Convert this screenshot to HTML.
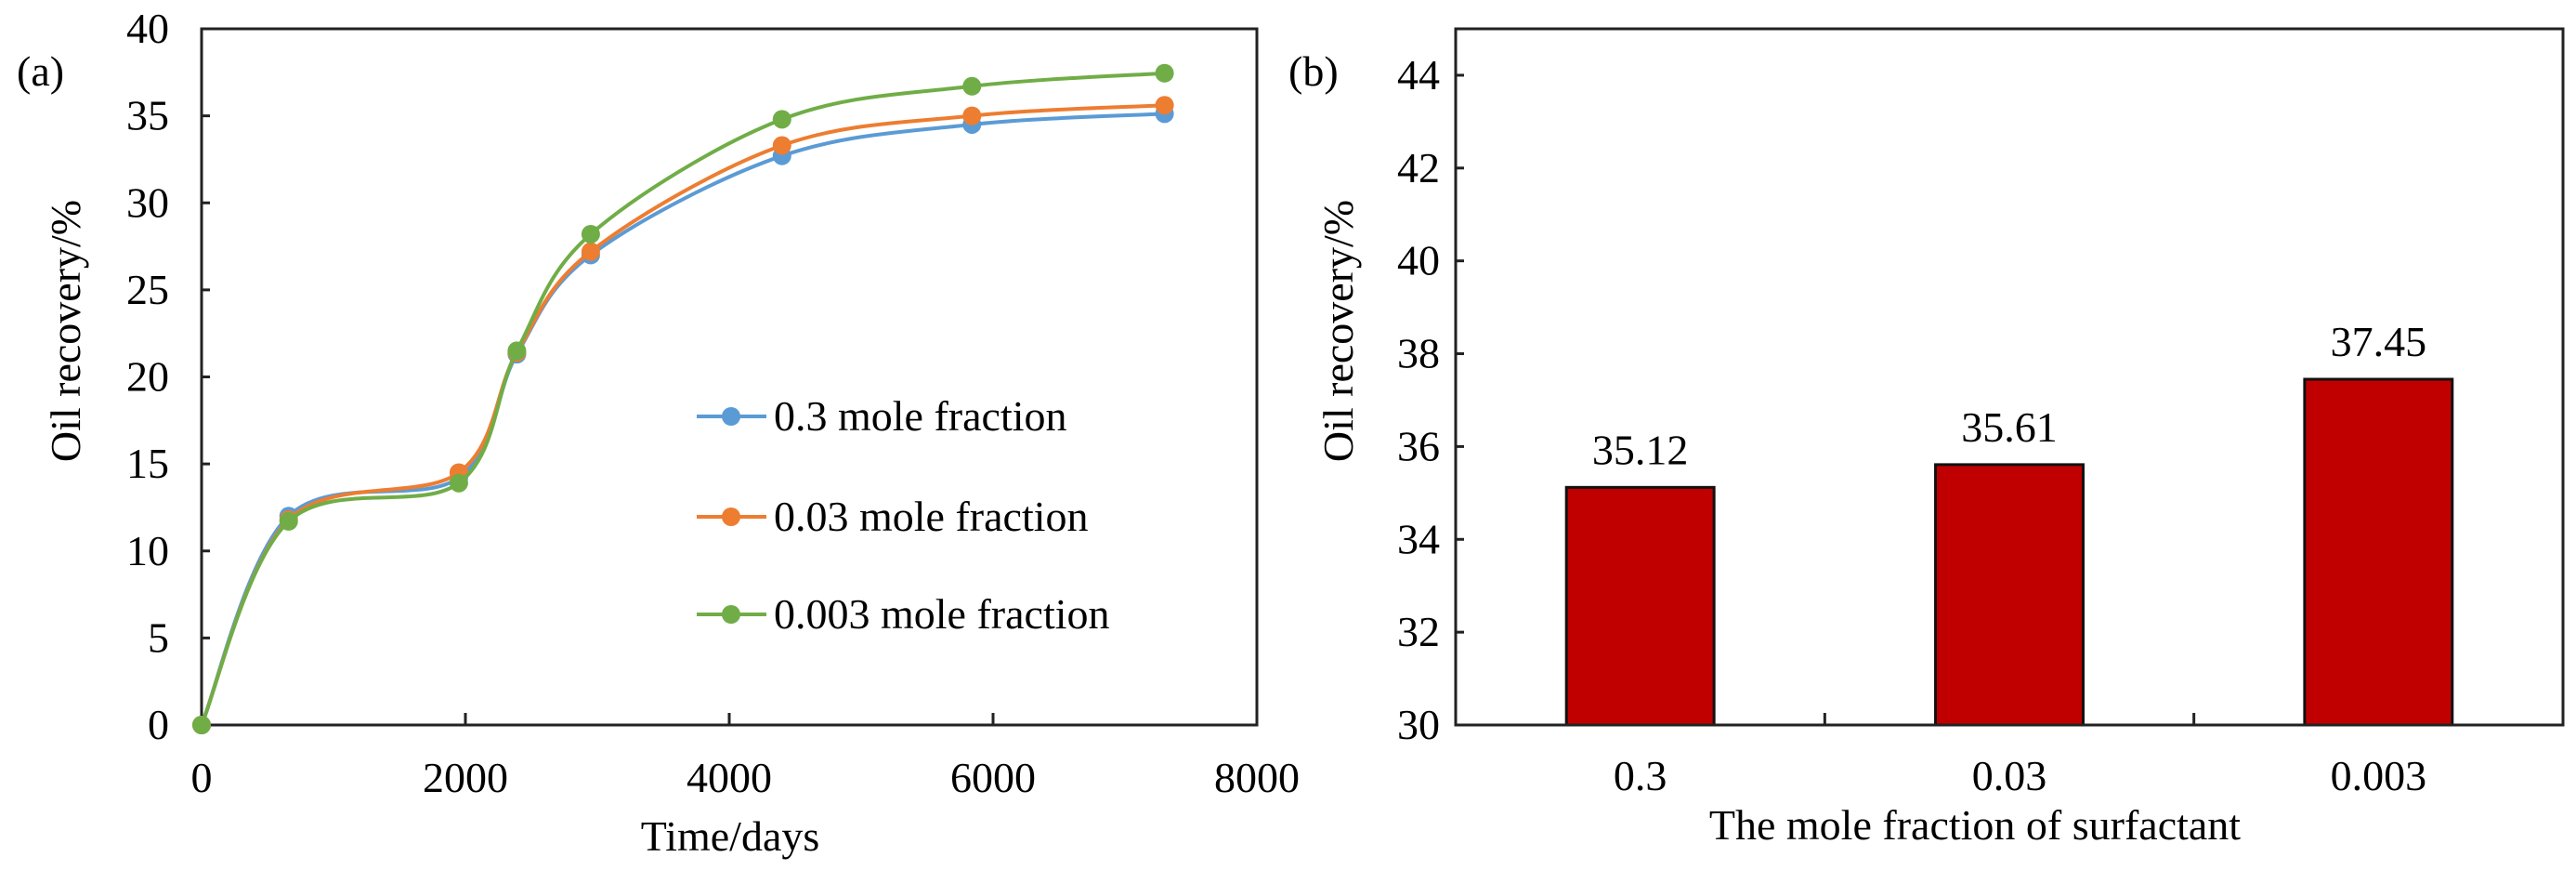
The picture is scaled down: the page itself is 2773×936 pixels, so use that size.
<!DOCTYPE html>
<html><head><meta charset="utf-8"><style>
html,body{margin:0;padding:0;background:#fff;}
svg, svg text{font-family:"Liberation Serif","Times New Roman",serif;}
</style></head><body>
<svg id="fig" width="2773" height="931" viewBox="0 0 2773 931" xmlns="http://www.w3.org/2000/svg" font-family="Liberation Serif, serif">
<g id="pa"></g>
<g id="pb"></g>
</svg>
<script>
const days = [0, 660, 1950, 2390, 2950, 4400, 5840, 7300];
const series03 = [0, 12.0, 14.2, 21.3, 27.0, 32.7, 34.5, 35.12];
const series003 = [0, 11.8, 14.5, 21.4, 27.2, 33.3, 35.0, 35.61];
const series0003 = [0, 11.7, 13.9, 21.5, 28.2, 34.8, 36.7, 37.45];
const seriesNames = ["0.3 mole fraction", "0.03 mole fraction", "0.003 mole fraction"];
const xTicksA = [0, 2000, 4000, 6000, 8000];
const yTicksA = [0, 5, 10, 15, 20, 25, 30, 35, 40];
const barCats = ["0.3", "0.03", "0.003"];
const barVals = [35.12, 35.61, 37.45];
const barLabels = ["35.12", "35.61", "37.45"];
const yTicksB = [30, 32, 34, 36, 38, 40, 42, 44];

const NS = "http://www.w3.org/2000/svg";
function mk(parent, tag, attrs, text){
  const e = document.createElementNS(NS, tag);
  for (const k in attrs) e.setAttribute(k, attrs[k]);
  if (tag === 'text') e.setAttribute('font-family', 'Liberation Serif, serif');
  if (text !== undefined) e.textContent = text;
  parent.appendChild(e);
  return e;
}
const FS = 46;

// Panel A
const pa = document.getElementById('pa');
const aL=217, aR=1353, aT=31, aB=780;
const xA = v => aL + (v/8000)*(aR-aL);
const yA = v => aB - (v/40)*(aB-aT);

let t = mk(pa,'text',{x:18,y:92,'font-size':FS});
t.textContent='(a)';



yTicksA.forEach(v=>{
  const l = mk(pa,'text',{x:182,y:yA(v)+15,'font-size':FS,'text-anchor':'end'}, String(v));
  
  
  const k = mk(pa,'line',{x1:aL,x2:aL+9,y1:yA(v),y2:yA(v),stroke:'#222','stroke-width':3});
  
  
});
xTicksA.forEach(v=>{
  const l = mk(pa,'text',{x:xA(v),y:852,'font-size':FS,'text-anchor':'middle'}, String(v));
  
  
  const k = mk(pa,'line',{x1:xA(v),x2:xA(v),y1:aB,y2:aB-13,stroke:'#222','stroke-width':3});
  
  
});
let fr = mk(pa,'rect',{x:aL,y:aT,width:aR-aL,height:aB-aT,fill:'none',stroke:'#222','stroke-width':3});



t = mk(pa,'text',{x:786,y:915,'font-size':FS,'text-anchor':'middle'},'Time/days');


t = mk(pa,'text',{x:0,y:0,'font-size':FS,'text-anchor':'middle',transform:'translate(86,356) rotate(-90)'},'Oil recovery/%');



function smoothPath(xs, ys){
  const p = xs.map((x,i)=>[xA(x), yA(ys[i])]);
  let d = `M${p[0][0]},${p[0][1]}`;
  for (let i=0;i<p.length-1;i++){
    const p0=p[Math.max(i-1,0)], p1=p[i], p2=p[i+1], p3=p[Math.min(i+2,p.length-1)];
    const c1=[p1[0]+(p2[0]-p0[0])/6, p1[1]+(p2[1]-p0[1])/6];
    const c2=[p2[0]-(p3[0]-p1[0])/6, p2[1]-(p3[1]-p1[1])/6];
    d += ` C${c1[0]},${c1[1]} ${c2[0]},${c2[1]} ${p2[0]},${p2[1]}`;
  }
  return d;
}
const colors = ['#5B9BD5','#ED7D31','#70AD47'];
const allSeries = [series03, series003, series0003];
const legY = [448, 556, 661];
allSeries.forEach((s,si)=>{
  const g = mk(pa,'g',{});
  
  
  const path = mk(g,'path',{d:smoothPath(days,s),fill:'none',stroke:colors[si],'stroke-width':4});
  
  
  days.forEach((d,i)=>{
    const c = mk(g,'circle',{cx:xA(d),cy:yA(s[i]),r:10,fill:colors[si]});
    
    
  });
  const lg = mk(pa,'g',{});
  
  
  mk(lg,'line',{x1:750,x2:825,y1:legY[si],y2:legY[si],stroke:colors[si],'stroke-width':4});
  mk(lg,'circle',{cx:787,cy:legY[si],r:10,fill:colors[si]});
  mk(lg,'text',{x:833,y:legY[si]+15,'font-size':FS}, seriesNames[si]);
});

// Panel B
const pb = document.getElementById('pb');
const bL=1567, bR=2759, bT=31, bB=780;
const yB = v => bB - ((v-30)/15)*(bB-bT);
const catW = (bR-bL)/barCats.length;
const xB = i => bL + catW*(i+0.5);

t = mk(pb,'text',{x:1387,y:92,'font-size':FS},'(b)');


yTicksB.forEach(v=>{
  const l = mk(pb,'text',{x:1550,y:yB(v)+15,'font-size':FS,'text-anchor':'end'}, String(v));
  
  
  const k = mk(pb,'line',{x1:bL,x2:bL+9,y1:yB(v),y2:yB(v),stroke:'#222','stroke-width':3});
  
  
});
for (let i=1;i<barCats.length;i++){
  const k = mk(pb,'line',{x1:bL+catW*i,x2:bL+catW*i,y1:bB,y2:bB-13,stroke:'#222','stroke-width':3});
  
  
}
const bw = catW*0.4;
barCats.forEach((c,i)=>{
  const r = mk(pb,'rect',{x:xB(i)-bw/2,y:yB(barVals[i]),width:bw,height:bB-yB(barVals[i]),fill:'#C00000',stroke:'#111','stroke-width':3});
  
  
  const v = mk(pb,'text',{x:xB(i),y:yB(barVals[i])-25,'font-size':FS,'text-anchor':'middle'}, barLabels[i]);
  
  
  const l = mk(pb,'text',{x:xB(i),y:850,'font-size':FS,'text-anchor':'middle'}, c);
  
  
});
fr = mk(pb,'rect',{x:bL,y:bT,width:bR-bL,height:bB-bT,fill:'none',stroke:'#222','stroke-width':3});


t = mk(pb,'text',{x:2126,y:903,'font-size':FS,'text-anchor':'middle'},'The mole fraction of surfactant');


t = mk(pb,'text',{x:0,y:0,'font-size':FS,'text-anchor':'middle',transform:'translate(1456,356) rotate(-90)'},'Oil recovery/%');


</script>
</body></html>
